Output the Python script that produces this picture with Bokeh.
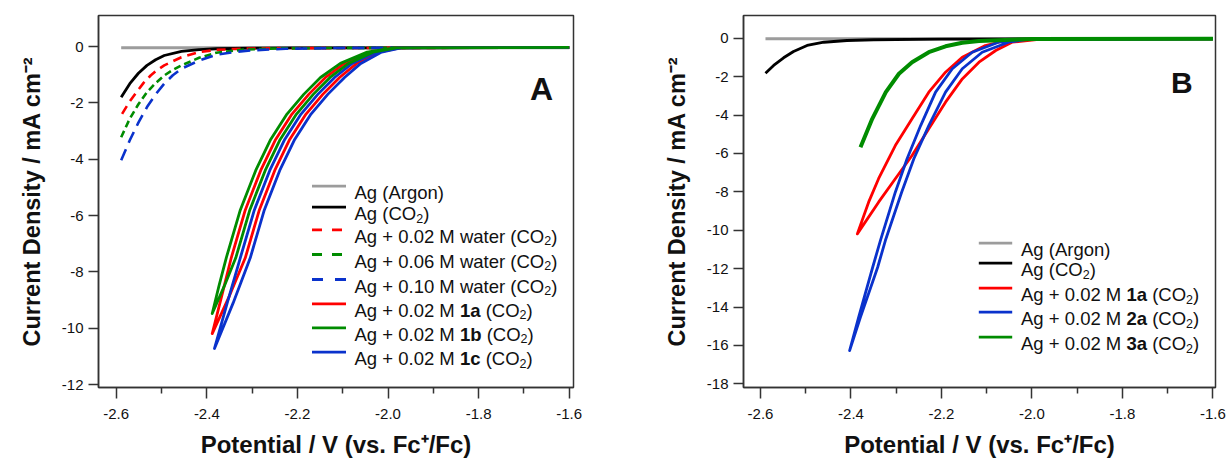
from bokeh.plotting import figure
from bokeh.layouts import row
from bokeh.models import Range1d, FixedTicker, PrintfTickFormatter, Label
from bokeh.embed import file_html
from bokeh.resources import INLINE

# ------------------------------------------------------------------ data
# Panel A  (x: Potential / V vs Fc+/Fc,  y: current density / mA cm^-2)
A_argon_x = [-2.589, -2.45, -2.30, -2.10, -1.90, -1.60]
A_argon_y = [-0.04, -0.04, -0.04, -0.04, -0.04, -0.04]

A_co2_x = [-2.589, -2.576, -2.570, -2.551, -2.532, -2.513, -2.494, -2.456, -2.417, -2.379, -2.30, -2.20, -2.00, -1.80, -1.60]
A_co2_y = [-1.80, -1.47, -1.32, -0.95, -0.67, -0.47, -0.32, -0.17, -0.11, -0.08, -0.06, -0.05, -0.05, -0.04, -0.04]

A_w002_x = [-2.587, -2.570, -2.555, -2.540, -2.524, -2.509, -2.494, -2.456, -2.417, -2.379, -2.340, -2.300, -2.200, -2.000, -1.600]
A_w002_y = [-2.39, -1.95, -1.62, -1.30, -1.03, -0.83, -0.67, -0.38, -0.20, -0.12, -0.09, -0.07, -0.06, -0.05, -0.04]

A_w006_x = [-2.589, -2.570, -2.551, -2.532, -2.513, -2.494, -2.475, -2.456, -2.417, -2.379, -2.318, -2.250, -2.100, -1.600]
A_w006_y = [-3.22, -2.56, -2.05, -1.62, -1.30, -1.03, -0.83, -0.67, -0.40, -0.22, -0.11, -0.07, -0.05, -0.04]

A_w010_x = [-2.589, -2.570, -2.551, -2.532, -2.513, -2.494, -2.475, -2.456, -2.417, -2.379, -2.341, -2.303, -2.226, -2.100, -1.600]
A_w010_y = [-4.04, -3.33, -2.70, -2.15, -1.70, -1.32, -1.02, -0.79, -0.50, -0.29, -0.20, -0.14, -0.08, -0.05, -0.04]

A_1a_fwd_x = [-1.600, -1.984, -2.039, -2.096, -2.138, -2.175, -2.212, -2.248, -2.281, -2.315, -2.346, -2.367, -2.388]
A_1a_fwd_y = [-0.03, -0.05, -0.20, -0.60, -1.10, -1.70, -2.40, -3.30, -4.40, -5.80, -7.50, -8.85, -10.19]
A_1a_rev_x = [-2.388, -2.350, -2.315, -2.284, -2.250, -2.217, -2.181, -2.144, -2.107, -2.069, -2.021, -1.974, -1.600]
A_1a_rev_y = [-10.19, -8.85, -7.50, -5.80, -4.40, -3.30, -2.40, -1.70, -1.10, -0.60, -0.20, -0.05, -0.03]

A_1b_fwd_x = [-1.600, -1.987, -2.046, -2.105, -2.149, -2.186, -2.223, -2.259, -2.292, -2.326, -2.357, -2.373, -2.388]
A_1b_fwd_y = [-0.03, -0.05, -0.20, -0.60, -1.10, -1.70, -2.40, -3.30, -4.40, -5.80, -7.50, -8.49, -9.48]
A_1b_rev_x = [-2.388, -2.361, -2.336, -2.305, -2.271, -2.238, -2.202, -2.165, -2.128, -2.087, -2.033, -1.981, -1.600]
A_1b_rev_y = [-9.48, -8.49, -7.50, -5.80, -4.40, -3.30, -2.40, -1.70, -1.10, -0.60, -0.20, -0.05, -0.03]

A_1c_fwd_x = [-1.600, -1.978, -2.027, -2.079, -2.118, -2.155, -2.192, -2.228, -2.261, -2.295, -2.326, -2.355, -2.383]
A_1c_fwd_y = [-0.03, -0.05, -0.20, -0.60, -1.10, -1.70, -2.40, -3.30, -4.40, -5.80, -7.50, -9.11, -10.72]
A_1c_rev_x = [-2.383, -2.342, -2.304, -2.273, -2.239, -2.206, -2.170, -2.133, -2.096, -2.060, -2.014, -1.971, -1.600]
A_1c_rev_y = [-10.72, -9.11, -7.50, -5.80, -4.40, -3.30, -2.40, -1.70, -1.10, -0.60, -0.20, -0.05, -0.03]

# Panel B
B_argon_x = [-2.589, -2.45, -2.30, -2.10, -1.90, -1.60]
B_argon_y = [-0.03, -0.03, -0.03, -0.03, -0.03, -0.03]

B_co2_x = [-2.589, -2.571, -2.549, -2.527, -2.497, -2.460, -2.409, -2.350, -2.200, -2.000, -1.600]
B_co2_y = [-1.82, -1.42, -1.02, -0.69, -0.38, -0.21, -0.12, -0.08, -0.05, -0.04, -0.04]

B_1a_fwd_x = [-1.600, -1.950, -2.058, -2.103, -2.154, -2.191, -2.228, -2.265, -2.302, -2.339, -2.361, -2.386]
B_1a_fwd_y = [-0.03, -0.04, -0.12, -0.38, -0.99, -1.77, -2.81, -4.20, -5.59, -7.32, -8.54, -10.19]
B_1a_rev_x = [-2.386, -2.339, -2.302, -2.265, -2.228, -2.191, -2.154, -2.117, -2.080, -2.044, -1.980, -1.600]
B_1a_rev_y = [-10.19, -8.54, -7.32, -6.11, -4.72, -3.33, -2.12, -1.25, -0.64, -0.21, -0.05, -0.03]

B_2a_fwd_x = [-1.600, -2.025, -2.074, -2.132, -2.176, -2.213, -2.246, -2.276, -2.302, -2.335, -2.352, -2.383, -2.403]
B_2a_fwd_y = [-0.03, -0.07, -0.21, -0.73, -1.59, -2.81, -4.55, -6.28, -8.02, -10.54, -11.93, -14.53, -16.27]
B_2a_rev_x = [-2.403, -2.379, -2.341, -2.324, -2.288, -2.261, -2.228, -2.191, -2.154, -2.110, -2.052, -2.014, -1.600]
B_2a_rev_y = [-16.27, -14.53, -11.93, -10.54, -8.02, -6.28, -4.55, -2.81, -1.59, -0.73, -0.21, -0.07, -0.03]

B_3a_x = [-1.600, -2.000, -2.117, -2.154, -2.191, -2.228, -2.265, -2.294, -2.323, -2.353, -2.379]
B_3a_y = [-0.03, -0.04, -0.15, -0.24, -0.42, -0.73, -1.25, -1.85, -2.81, -4.20, -5.68]

X_TICKS = [-2.6, -2.4, -2.2, -2.0, -1.8, -1.6]
X_MINOR = [-2.5, -2.3, -2.1, -1.9, -1.7]
A_Y_TICKS = [0, -2, -4, -6, -8, -10, -12]
B_Y_TICKS = [0, -2, -4, -6, -8, -10, -12, -14, -16, -18]

# legend labels: list of (text, style)  n=normal, b=bold, s=subscript
A_LEGEND = [
    [("Ag (Argon)", "n")],
    [("Ag (CO", "n"), ("2", "s"), (")", "n")],
    [("Ag + 0.02 M water (CO", "n"), ("2", "s"), (")", "n")],
    [("Ag + 0.06 M water (CO", "n"), ("2", "s"), (")", "n")],
    [("Ag + 0.10 M water (CO", "n"), ("2", "s"), (")", "n")],
    [("Ag + 0.02 M ", "n"), ("1a", "b"), (" (CO", "n"), ("2", "s"), (")", "n")],
    [("Ag + 0.02 M ", "n"), ("1b", "b"), (" (CO", "n"), ("2", "s"), (")", "n")],
    [("Ag + 0.02 M ", "n"), ("1c", "b"), (" (CO", "n"), ("2", "s"), (")", "n")],
]
B_LEGEND = [
    [("Ag (Argon)", "n")],
    [("Ag (CO", "n"), ("2", "s"), (")", "n")],
    [("Ag + 0.02 M ", "n"), ("1a", "b"), (" (CO", "n"), ("2", "s"), (")", "n")],
    [("Ag + 0.02 M ", "n"), ("2a", "b"), (" (CO", "n"), ("2", "s"), (")", "n")],
    [("Ag + 0.02 M ", "n"), ("3a", "b"), (" (CO", "n"), ("2", "s"), (")", "n")],
]
Y_TITLE = "Current Density / mA cm\u207b\u00b2"
X_TITLE = "Potential / V (vs. Fc\u207a/Fc)"

# ------------------------------------------------------------------ style
FONT = "Liberation Sans"
GRAY = "#9c9c9c"
BLACK = "#000000"
RED = "#ff0000"
GREEN = "#008c00"
BLUE = "#0a32cc"
AXC = "#333333"

REG = {'A': 667, 'g': 556, ' ': 278, '+': 584, '.': 278, 'M': 833, 'w': 722, 'a': 556,
       't': 278, 'e': 556, 'r': 333, '(': 333, ')': 333, 'C': 722, 'O': 778, 'o': 556, 'n': 556}
BOLD = {'a': 556, 'b': 611, 'c': 556, ' ': 278}
for d in "0123456789":
    REG[d] = 556
    BOLD[d] = 556


def tw(s, size, bold):
    t = BOLD if bold else REG
    return sum(t.get(c, 556) for c in s) * size / 1000.0


FH = 372
BT = 15
BB = 458 - BT - FH


class Geo:
    """page-pixel -> data conversion for annotation placement"""
    def __init__(self, left, top, fw, x_ref_px, x_ref_val, xs, y0_px, ys):
        self.left, self.top, self.fw = left, top, fw
        self.x0 = x_ref_val - (x_ref_px - left) / xs
        self.xs = xs
        self.y1 = (y0_px - top) / ys
        self.ys = ys

    def X(self, px):
        return self.x0 + (px - self.left) / self.xs

    def Y(self, py):
        return self.y1 - (py - self.top) / self.ys


GA = Geo(98, 15, 475, 115.7, -2.6, 453.0, 46.0, 28.17)
GB = Geo(743, 15, 472, 760.0, -2.6, 452.4, 37.7, 19.2)


def make_fig(G, bl, br, yticks):
    p = figure(frame_width=G.fw, frame_height=FH,
               min_border_left=bl, min_border_right=br,
               min_border_top=BT, min_border_bottom=BB,
               x_range=Range1d(G.X(G.left), G.X(G.left + G.fw)),
               y_range=Range1d(G.Y(G.top + FH), G.Y(G.top)),
               output_backend="svg", toolbar_location=None, tools="")
    p.grid.visible = False
    p.background_fill_color = "white"
    p.border_fill_color = "white"
    p.outline_line_color = AXC
    p.outline_line_width = 1.5
    p.xaxis.ticker = FixedTicker(ticks=X_TICKS, minor_ticks=X_MINOR)
    p.xaxis.formatter = PrintfTickFormatter(format="%.1f")
    p.yaxis.ticker = FixedTicker(ticks=yticks)
    p.yaxis.formatter = PrintfTickFormatter(format="%d")
    for ax in (p.xaxis[0], p.yaxis[0]):
        ax.axis_line_color = AXC
        ax.axis_line_width = 1.5
        ax.major_tick_line_color = AXC
        ax.major_tick_line_width = 1.5
        ax.minor_tick_line_color = AXC
        ax.minor_tick_line_width = 1.5
        ax.major_tick_in = 0
        ax.minor_tick_in = 0
        ax.major_label_text_font = FONT
        ax.major_label_text_font_size = "15px"
        ax.major_label_text_color = "#111111"
        ax.axis_label_text_font = FONT
        ax.axis_label_text_font_style = "bold"
        ax.axis_label_text_color = "#111111"
    p.xaxis.major_tick_out = 11
    p.xaxis.minor_tick_out = 6
    p.xaxis.major_label_standoff = 10
    p.xaxis.axis_label = X_TITLE
    p.xaxis.axis_label_text_font_size = "24px"
    p.xaxis.axis_label_standoff = 9
    p.yaxis.major_tick_out = 10
    p.yaxis.minor_tick_line_color = None
    p.yaxis.major_label_standoff = 5
    p.yaxis.axis_label = Y_TITLE
    p.yaxis.axis_label_text_font_size = "23.5px"
    p.yaxis.axis_label_standoff = 14
    return p


def put(p, G, px, py, text, size, bold):
    p.add_layout(Label(x=G.X(px), y=G.Y(py), text=text, text_font=FONT,
                       text_font_size=f"{size}px",
                       text_font_style="bold" if bold else "normal",
                       text_align="left", text_baseline="alphabetic",
                       text_color="#111111"))


def legend(p, G, x1, x2, tx, rows, entries, labels, size=18.5):
    for (color, dash), ry, pieces in zip(entries, rows, labels):
        p.line([G.X(x1), G.X(x2)], [G.Y(ry), G.Y(ry)], line_color=color,
               line_width=2.8, line_dash=dash)
        base = ry + 6.5
        pos = tx
        for txt, st in pieces:
            bold = st == "b"
            fs = 12.5 if st == "s" else size
            lead = txt[:len(txt) - len(txt.lstrip(" "))]
            pos += tw(lead, fs, bold)
            body = txt.lstrip(" ")
            put(p, G, pos, base + (4.5 if st == "s" else 0), body, fs, bold)
            pos += tw(body, fs, bold)


# ------------------------------------------------------------------ panel A
pA = make_fig(GA, 98, 640 - 98 - 475, A_Y_TICKS)
pA.line(A_argon_x, A_argon_y, line_color=GRAY, line_width=3)
pA.line(A_co2_x, A_co2_y, line_color=BLACK, line_width=2.8)
pA.line(A_w002_x, A_w002_y, line_color=RED, line_width=2.6, line_dash="9 6")
pA.line(A_w006_x, A_w006_y, line_color=GREEN, line_width=2.6, line_dash="7 4")
pA.line(A_w010_x, A_w010_y, line_color=BLUE, line_width=2.6, line_dash="12 7")
pA.line(A_1a_fwd_x + A_1a_rev_x, A_1a_fwd_y + A_1a_rev_y, line_color=RED, line_width=2.8, line_join="round")
pA.line(A_1c_fwd_x + A_1c_rev_x, A_1c_fwd_y + A_1c_rev_y, line_color=BLUE, line_width=2.8, line_join="round")
pA.line(A_1b_fwd_x + A_1b_rev_x, A_1b_fwd_y + A_1b_rev_y, line_color=GREEN, line_width=2.8, line_join="round")

A_ENTRIES = [(GRAY, "solid"), (BLACK, "solid"), (RED, "10 10"), (GREEN, "10 10"),
             (BLUE, "11 12"), (RED, "solid"), (GREEN, "solid"), (BLUE, "solid")]
legend(pA, GA, 311.5, 345.5, 354,
       [185.7, 206.7, 229.3, 254.0, 279.0, 303.3, 327.3, 351.7], A_ENTRIES, A_LEGEND)
put(pA, GA, 529.5, 88.3, "A", 32, True)

# ------------------------------------------------------------------ panel B
pB = make_fig(GB, 103, 1228 - 640 - 103 - 472, B_Y_TICKS)
pB.line(B_argon_x, B_argon_y, line_color=GRAY, line_width=3)
pB.line(B_co2_x, B_co2_y, line_color=BLACK, line_width=2.8)
pB.line(B_1a_fwd_x + B_1a_rev_x, B_1a_fwd_y + B_1a_rev_y, line_color=RED, line_width=2.8, line_join="round")
pB.line(B_2a_fwd_x + B_2a_rev_x, B_2a_fwd_y + B_2a_rev_y, line_color=BLUE, line_width=2.8, line_join="round")
pB.line(B_3a_x, B_3a_y, line_color=GREEN, line_width=4)

B_ENTRIES = [(GRAY, "solid"), (BLACK, "solid"), (RED, "solid"), (BLUE, "solid"), (GREEN, "solid")]
legend(pB, GB, 978.3, 1011.7, 1020.5, [242.7, 262.7, 287.7, 311.7, 336.7], B_ENTRIES, B_LEGEND)
put(pB, GB, 1170.5, 81.7, "B", 30, True)

layout = row(pA, pB)
open("out.html", "w").write(file_html(layout, INLINE))
